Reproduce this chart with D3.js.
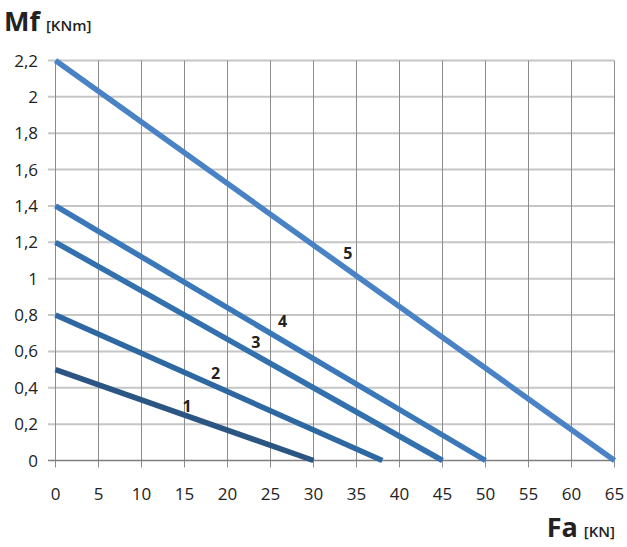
<!DOCTYPE html>
<html>
<head>
<meta charset="utf-8">
<script src="https://cdn.jsdelivr.net/npm/d3@7"></script>
<style>
  body { margin: 0; background: #fff; }
  text { font-family: "Open Sans", sans-serif; fill: #222; }
</style>
</head>
<body>
<svg id="chart"></svg>
<script>
// curve names and endpoints (Mf at Fa=0, Fa at Mf=0)
let curveNames = ["1", "2", "3", "4", "5"];
let mfStart = [0.5, 0.8, 1.2, 1.4, 2.2];
let faEnd = [30, 38, 45, 50, 65];
// where the curve numbers sit, in data units
let labelFa = [15.3, 18.6, 23.3, 26.4, 34.0];
let labelMf = [0.30, 0.48, 0.65, 0.77, 1.14];
let xTicks = [0, 5, 10, 15, 20, 25, 30, 35, 40, 45, 50, 55, 60, 65];
let yTicks = [0, 0.2, 0.4, 0.6, 0.8, 1, 1.2, 1.4, 1.6, 1.8, 2, 2.2];
let colors = ["#2b5684", "#2e68a2", "#3270ae", "#3a78b9", "#4a82c6"];

let width = 627, height = 547;
let svg = d3.select("#chart").attr("width", width).attr("height", height);

let x = d3.scaleLinear().domain([0, 65]).range([55.5, 614.5]);
let y = d3.scaleLinear().domain([0, 2.2]).range([460.5, 60.5]);

let fmt = d => String(d).replace(".", ",");

// horizontal grid
svg.append("g").selectAll("line")
    .data(yTicks.filter(d => d > 0))
    .enter().append("line")
    .attr("x1", 48).attr("x2", x(65))
    .attr("y1", d => y(d)).attr("y2", d => y(d))
    .attr("stroke", "#c6c6c6").attr("stroke-width", 2);

// vertical grid
svg.append("g").selectAll("line")
    .data(xTicks)
    .enter().append("line")
    .attr("x1", d => x(d)).attr("x2", d => x(d))
    .attr("y1", y(2.2)).attr("y2", y(0) + 7)
    .attr("stroke", "#8c8c8c").attr("stroke-width", 1);

// x axis line
svg.append("line")
    .attr("x1", 48).attr("x2", x(65))
    .attr("y1", y(0)).attr("y2", y(0))
    .attr("stroke", "#7f7f7f").attr("stroke-width", 1.5);

// tick labels
svg.append("g").selectAll("text")
    .data(yTicks)
    .enter().append("text")
    .attr("x", 38).attr("y", d => y(d) + 6)
    .attr("text-anchor", "end")
    .attr("font-size", 17)
    .text(fmt);

svg.append("g").selectAll("text")
    .data(xTicks)
    .enter().append("text")
    .attr("x", d => x(d)).attr("y", 500)
    .attr("text-anchor", "middle")
    .attr("font-size", 17)
    .text(d => d);

// curves
let line = d3.line().x(d => x(d[0])).y(d => y(d[1]));
svg.append("g").selectAll("path")
    .data(curveNames)
    .enter().append("path")
    .attr("d", (d, i) => line([[0, mfStart[i]], [faEnd[i], 0]]))
    .attr("fill", "none")
    .attr("stroke", (d, i) => colors[i])
    .attr("stroke-width", 5.5);

// curve numbers
svg.append("g").selectAll("text")
    .data(curveNames)
    .enter().append("text")
    .attr("x", (d, i) => x(labelFa[i]))
    .attr("y", (d, i) => y(labelMf[i]) + 6)
    .attr("text-anchor", "middle")
    .attr("font-size", 16)
    .attr("font-weight", "bold")
    .text(d => d);

// axis titles
let yt = svg.append("text").attr("x", 4).attr("y", 31);
yt.append("tspan").attr("font-size", 27).attr("font-weight", "bold").text("Mf");
yt.append("tspan").attr("font-size", 15).attr("font-weight", 600).attr("dx", 6).text("[KNm]");

let xt = svg.append("text").attr("x", 615).attr("y", 537).attr("text-anchor", "end");
xt.append("tspan").attr("font-size", 27).attr("font-weight", "bold").text("Fa");
xt.append("tspan").attr("font-size", 15).attr("font-weight", 600).attr("dx", 6).text("[KN]");
</script>
</body>
</html>
